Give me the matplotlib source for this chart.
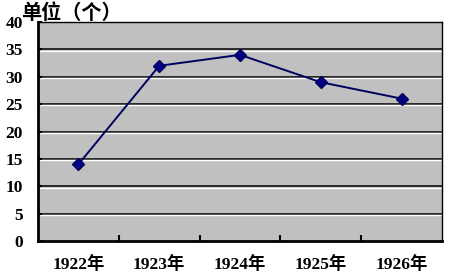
import matplotlib.pyplot as plt
import matplotlib.transforms as mtransforms

years = ["1922年", "1923年", "1924年", "1925年", "1926年"]
counts = [14, 32, 34, 29, 26]
yticks = [0, 5, 10, 15, 20, 25, 30, 35, 40]

fam = ["Liberation Serif", "Noto Sans CJK SC", "DejaVu Sans"]

fig = plt.figure(figsize=(4.52, 2.76), dpi=100)
ax = fig.add_axes([38/452, 35/276, 404/452, 219/276])
ax.set_facecolor("#c0c0c0")

x = list(range(len(years)))
# gridlines: black with a white line just below
white_off = mtransforms.offset_copy(ax.transData, fig=fig, x=0, y=-1.3, units="dots")
for v in yticks[1:-1]:
    ax.axhline(v, color="black", lw=1.1, zorder=1)
    ax.plot([-0.5, len(years) - 0.5], [v, v], color="white", lw=1.0, zorder=1,
            transform=white_off)

ax.plot(x, counts, color="#000060", lw=1.4, marker="D", markersize=6,
        markerfacecolor="#000080", markeredgecolor="#000060", zorder=3)

ax.set_xlim(-0.5, len(years) - 0.5)
ax.set_ylim(0, 40)
ax.set_yticks(yticks)
ax.set_yticklabels([str(v) for v in yticks], family=fam, fontsize=12.5, fontweight="bold")
ax.set_xticks(x)
ax.set_xticklabels(years, family=fam, fontsize=12.5, fontweight="bold")
ax.tick_params(axis="x", length=0, pad=11)
ax.set_xticks([i + 0.5 for i in x[:-1]], minor=True)
ax.tick_params(axis="x", which="minor", direction="in", length=4, width=1.5)
ax.tick_params(axis="y", direction="in", length=3, width=1.5, pad=11)

for s in ["left", "bottom"]:
    ax.spines[s].set_linewidth(2)
for s in ["top", "right"]:
    ax.spines[s].set_linewidth(1)

fig.text(21/452, 1 - 12.5/276, "单位（个）", family=["Noto Sans CJK SC"], fontsize=14.5,
         fontweight="bold", va="center", ha="left")

fig.savefig("out.png", dpi=100)
